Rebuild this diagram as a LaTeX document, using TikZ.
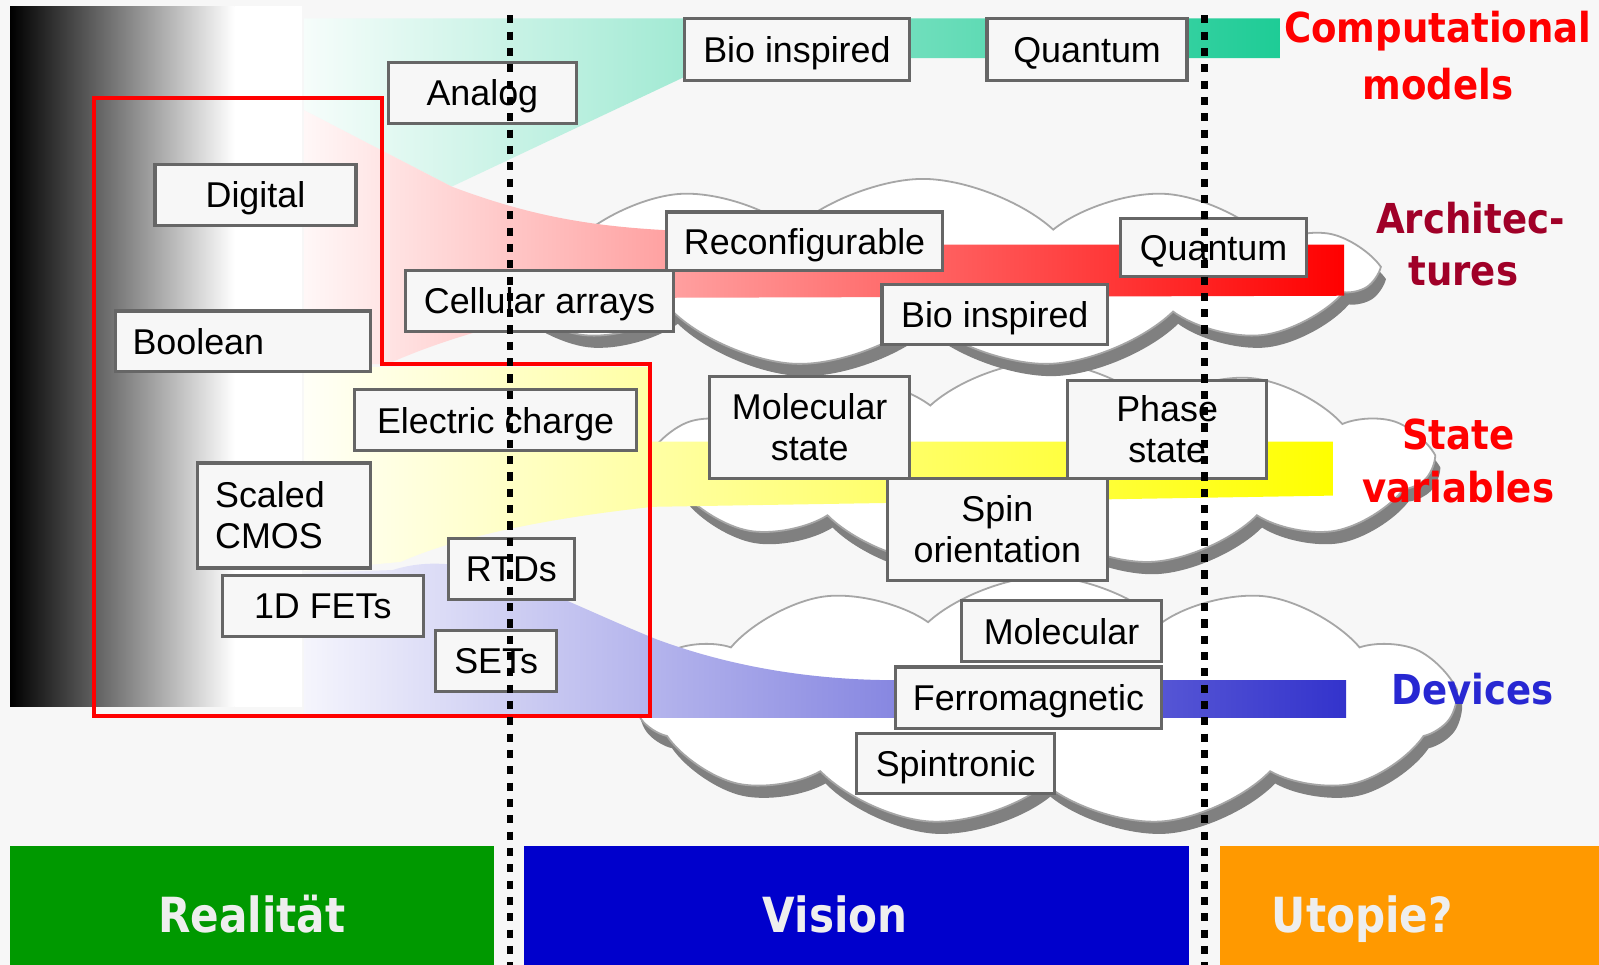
\documentclass[tikz,border=0pt]{standalone}
\usepackage{fontspec}
\setmainfont{Liberation Sans}
\newfontfamily\sidefont[FakeStretch=0.9]{DejaVu Sans}
\newfontfamily\barfont[FakeStretch=0.87]{DejaVu Sans}
\usepackage{xcolor}
\usepackage{tikz}
\usetikzlibrary{shapes.symbols}

\definecolor{bggray}{HTML}{F7F7F7}
\definecolor{modelgreen}{RGB}{30,204,150}
\definecolor{archred}{RGB}{160,0,40}
\definecolor{devblue}{RGB}{51,51,204}
\definecolor{devtext}{RGB}{40,40,210}
\definecolor{realgreen}{RGB}{0,153,0}
\definecolor{visionblue}{RGB}{0,0,204}
\definecolor{utopiaorange}{RGB}{255,153,0}
\definecolor{bartext}{HTML}{EEEEEE}

\tikzset{
    boxbase/.style={draw=black!60, line width=0.9pt, fill=white!97!black, inner xsep=0.17cm, inner ysep=0.04cm, font=\fontsize{10}{11.5}\selectfont, align=center},
    box/.style={boxbase, text height=7.2pt, text depth=0pt},
    tallbox/.style={boxbase},
    sized/.style 2 args={minimum width=#1cm, minimum height=#2cm},
    cloudy/.style={cloud, cloud puffs=11, cloud puff arc=85, cloud ignores aspect, draw=black!35, line width=0.5pt, fill=white},
    cloudshadow/.style={cloud, cloud puffs=11, cloud puff arc=85, cloud ignores aspect, fill=black!50},
    redframe/.style={draw=red, line width=0.04cm},
    cutline/.style={line width=0.065cm, dash pattern=on 0.08cm off 0.08cm},
    sidelabel/.style={font=\sidefont\bfseries\fontsize{11.5}{13}\selectfont, inner sep=0pt, anchor=base},
    barlabel/.style={font=\barfont\bfseries\fontsize{13.5}{15}\selectfont, text=bartext, inner sep=0pt, anchor=base}
}

\begin{document}
\begin{tikzpicture}[x=0.01cm, y=-0.01cm]
    \useasboundingbox (0,0) rectangle (1568,946);
    \fill[bggray] (0,0) rectangle (1568,946);

    \shade[left color=black, right color=white] (10,6) rectangle (230,693);
    \fill[white] (230,6) rectangle (296,693);

    \node[cloudshadow, sized={8.0}{2.45}] (devshadow) at (1030,700) {};
    \node[cloudy, sized={8.0}{2.45}] (devcloud) at (1025,688) {};
    \node[cloudshadow, sized={7.6}{2.0}] (stateshadow) at (1027,467) {};
    \node[cloudy, sized={7.6}{2.0}] (statecloud) at (1022,455) {};
    \node[cloudshadow, sized={8.8}{1.85}] (archshadow) at (910,280) {};
    \node[cloudy, sized={8.8}{1.85}] (archcloud) at (905,268) {};

    \shade[left color=modelgreen!4, right color=modelgreen] (298,18) -- (1255,18) -- (1255,57) -- (670,57) -- (670,76) -- (443,183) -- (298,108) -- cycle;
    \shade[left color=red!3, middle color=red!40, right color=red] (298,108) -- (443,183) .. controls (520,212) and (580,222) .. (658,226) -- (658,240) -- (1318,240) -- (1318,290) -- (658,292) .. controls (540,300) and (440,330) .. (380,357) -- (298,357) -- cycle;
    \shade[left color=yellow!3, middle color=yellow!35, right color=yellow] (298,360) -- (637,360) -- (637,433) -- (1307,433) -- (1307,486) -- (640,497) .. controls (520,510) and (440,530) .. (393,551) -- (298,560) -- cycle;
    \shade[left color=devblue!5, right color=devblue] (298,562) -- (385,559) .. controls (460,535) and (540,585) .. (644,627) .. controls (720,655) and (800,667) .. (879,667) -- (1320,667) -- (1320,704) -- (298,704) -- cycle;

    \draw[redframe] (92,96) -- (375,96) -- (375,357) -- (637,357) -- (637,702) -- (92,702) -- cycle;

    \node[box, sized={2.21}{0.61}] (bioM) at (781.5,48.5) {Bio inspired};
    \node[box, sized={1.96}{0.61}] (quantM) at (1066,48.5) {Quantum};
    \node[box, sized={1.84}{0.60}] (analog) at (473,91) {Analog};
    \node[box, sized={1.97}{0.60}] (digital) at (250.5,191) {Digital};
    \node[box, sized={2.66}{0.57}] (reconf) at (789,236.5) {Reconfigurable};
    \node[box, sized={1.82}{0.57}] (quantA) at (1190,242.5) {Quantum};
    \node[box, sized={2.62}{0.60}] (cellular) at (529,295) {Cellular arrays};
    \node[box, sized={2.21}{0.59}] (bioA) at (975.5,308.5) {Bio inspired};
    \node[box, sized={2.50}{0.59}, text width=2.16cm, align=left] (boolean) at (238,334.5) {Boolean};
    \node[box, sized={2.76}{0.60}] (charge) at (486,412) {Electric charge};
    \node[tallbox, sized={1.96}{1.00}] (molstate) at (794,419) {Molecular\\state};
    \node[tallbox, sized={1.95}{0.96}] (phase) at (1144.5,421) {Phase\\state};
    \node[tallbox, sized={2.16}{1.00}] (spin) at (978,519) {Spin\\orientation};
    \node[tallbox, sized={1.69}{1.03}, text width=1.35cm, align=left] (cmos) at (278.5,505.5) {Scaled\\CMOS};
    \node[box, sized={1.23}{0.60}] (rtd) at (501.5,558) {RTDs};
    \node[box, sized={1.97}{0.60}] (fet) at (316.5,594) {1D FETs};
    \node[box, sized={1.19}{0.60}] (set) at (486.5,648) {SETs};
    \node[box, sized={1.96}{0.60}] (molecular) at (1041,619) {Molecular};
    \node[box, sized={2.61}{0.60}] (ferro) at (1008.5,684) {Ferromagnetic};
    \node[box, sized={1.94}{0.59}] (spintronic) at (937,748.5) {Spintronic};

    \node[sidelabel, text=red] (compA) at (1410,42) {Computational};
    \node[sidelabel, text=red] (compB) at (1410,98) {models};
    \node[sidelabel, text=archred] (archA) at (1442,229) {Architec-};
    \node[sidelabel, text=archred] (archB) at (1435,280) {tures};
    \node[sidelabel, text=red] (stateA) at (1430,441) {State};
    \node[sidelabel, text=red] (stateB) at (1430,493) {variables};
    \node[sidelabel, text=devtext] (devices) at (1444,691) {Devices};

    \fill[realgreen] (10,830) rectangle (484,946);
    \fill[visionblue] (514,830) rectangle (1166,946);
    \fill[utopiaorange] (1196,830) rectangle (1568,946);
    \node[barlabel] (reality) at (247,914) {Realität};
    \node[barlabel] (vision) at (819,914) {Vision};
    \node[barlabel] (utopia) at (1336,914) {Utopie?};

    \coordinate (nowtop) at (500,15);
    \coordinate (nowend) at (500,946);
    \coordinate (visiontop) at (1181,15);
    \coordinate (visionend) at (1181,946);
    \draw[cutline] (nowtop) -- (nowend);
    \draw[cutline] (visiontop) -- (visionend);
\end{tikzpicture}
\end{document}
